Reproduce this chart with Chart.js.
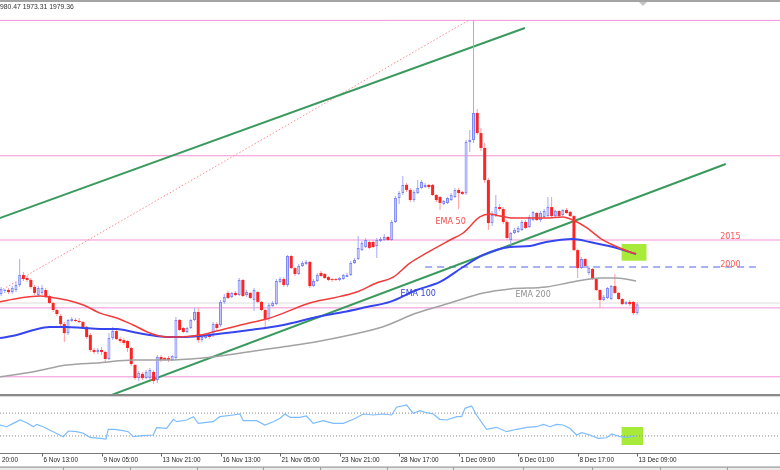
<!DOCTYPE html>
<html><head><meta charset="utf-8">
<script src="https://cdn.jsdelivr.net/npm/chart.js@4.4.1/dist/chart.umd.min.js"></script>
<style>html,body{margin:0;padding:0;background:#fff;}canvas{display:block;}</style>
</head><body>
<canvas id="c" width="780" height="470"></canvas>
<script>
// ---------- DATA (XAUUSD H4, bar index 5 .. 176) ----------
const firstBar = 5;
const opens = [
1985.0,1986.7,1987.2,1986.1,1987.2,1990.0,1995.6,1993.9,1992.8,1988.9,
1984.4,1985.6,1987.2,1983.9,1980.0,1976.1,1972.8,1968.3,1963.3,1970.0,
1970.6,1970.0,1969.4,1966.7,1962.2,1953.9,1952.8,1953.9,1952.8,1948.9,
1960.6,1964.4,1960.0,1959.4,1958.9,1955.0,1945.6,1938.3,1940.6,1938.3,
1938.3,1941.7,1937.2,1950.0,1949.4,1949.4,1948.3,1949.4,1970.6,1966.1,
1963.9,1966.1,1970.6,1975.0,1959.4,1960.6,1962.2,1962.2,1968.3,1967.8,
1980.6,1985.6,1983.3,1985.6,1984.4,1992.8,1984.4,1985.6,1981.7,1986.1,
1980.6,1976.1,1971.1,1978.3,1979.4,1991.7,1993.3,1990.0,2006.1,1999.4,
1996.1,2000.6,2001.7,2002.8,1989.4,1992.2,1996.7,1996.1,1994.4,1993.3,
1993.3,1992.8,1993.3,1994.4,1995.6,2002.2,2004.4,2009.4,2011.1,2013.9,
2013.9,2011.7,2014.4,2015.0,2016.7,2015.0,2025.0,2038.3,2041.1,2045.6,
2042.8,2037.2,2041.1,2043.9,2044.4,2045.6,2045.6,2040.0,2038.9,2035.0,
2035.6,2037.2,2038.9,2042.8,2041.7,2041.1,2069.4,2070.6,2085.6,2074.4,
2066.1,2048.3,2024.4,2028.9,2033.3,2032.2,2025.0,2015.0,2018.9,2019.4,
2020.6,2025.0,2022.2,2026.1,2030.0,2026.1,2027.8,2028.3,2033.3,2028.3,
2031.1,2028.9,2031.7,2030.6,2028.3,2009.4,1999.4,2004.4,1996.7,1998.9,
1993.3,1987.2,1981.7,1982.8,1982.2,1989.4,1985.6,1982.2,1979.4,1980.6,
1980.6,1974.4];
const highs = [
1988.9,1987.8,1988.3,1989.4,1991.7,2004.4,1997.2,1995.0,1993.9,1990.0,
1989.4,1990.0,1988.3,1984.4,1980.6,1976.7,1973.9,1969.4,1971.1,1972.2,
1971.7,1971.7,1970.0,1967.2,1963.3,1955.0,1955.0,1955.6,1953.3,1963.3,
1966.7,1965.0,1961.1,1960.6,1959.4,1955.6,1946.1,1942.2,1941.7,1942.8,
1943.9,1942.8,1951.1,1951.1,1950.0,1950.6,1951.1,1972.2,1971.1,1966.7,
1966.7,1971.1,1977.2,1977.2,1962.2,1963.3,1962.8,1969.4,1969.4,1981.7,
1985.0,1986.7,1986.1,1986.7,1993.9,1993.3,1987.2,1986.1,1988.3,1986.7,
1981.1,1976.7,1980.0,1981.1,1993.3,1994.4,1994.4,2006.7,2006.7,2000.0,
2001.7,2003.3,2003.9,2003.3,1993.3,1996.7,1997.8,1996.7,1995.0,1993.9,
1993.9,1994.4,1996.1,1996.7,2003.3,2005.0,2017.2,2014.4,2016.1,2015.0,
2015.0,2016.1,2016.7,2018.3,2017.2,2026.1,2039.4,2042.2,2050.6,2046.7,
2043.9,2042.8,2048.3,2048.3,2046.7,2046.1,2046.1,2040.6,2039.4,2037.2,
2038.9,2041.1,2043.9,2043.9,2042.2,2070.6,2076.1,2137.2,2087.8,2077.2,
2068.9,2049.4,2031.1,2040.0,2035.0,2033.3,2026.1,2019.4,2021.7,2022.8,
2026.1,2026.1,2028.9,2031.1,2030.6,2031.1,2032.2,2038.9,2038.9,2031.7,
2031.7,2032.2,2032.8,2031.1,2028.9,2010.0,2005.6,2005.0,2000.6,1999.4,
1993.9,1987.8,1984.4,1988.9,1990.0,1996.1,1986.1,1982.8,1981.1,1981.7,
1981.1,1980.47];
const lows = [
1983.9,1985.6,1985.0,1985.0,1986.1,1988.9,1992.2,1991.7,1987.8,1984.4,
1983.3,1984.4,1982.8,1979.4,1975.0,1972.8,1967.2,1958.3,1962.2,1969.4,
1969.4,1968.9,1965.6,1960.0,1952.8,1951.7,1951.7,1951.1,1947.2,1948.3,
1959.4,1959.4,1957.8,1956.7,1952.8,1945.0,1937.2,1936.7,1937.2,1937.8,
1937.2,1935.0,1935.6,1947.2,1947.8,1947.2,1947.8,1948.3,1964.4,1963.3,
1963.3,1965.6,1970.0,1957.8,1958.3,1960.0,1960.0,1961.1,1965.0,1966.7,
1979.4,1982.2,1982.8,1983.9,1983.9,1983.3,1983.3,1982.2,1975.6,1980.0,
1975.6,1966.1,1970.0,1977.8,1978.9,1991.1,1988.9,1988.9,1998.9,1995.0,
1995.6,2000.0,2001.1,1988.3,1988.9,1991.7,1994.4,1993.3,1992.2,1991.7,
1992.2,1992.2,1992.8,1994.4,1995.0,2001.7,2003.9,2008.9,2010.6,2010.0,
2010.6,2005.0,2013.9,2014.4,2014.4,2014.4,2024.4,2035.0,2040.0,2041.7,
2036.1,2036.1,2040.6,2043.3,2043.9,2043.3,2039.4,2036.1,2031.7,2034.4,
2035.0,2036.7,2038.3,2032.2,2040.0,2040.0,2063.9,2068.9,2073.3,2064.4,
2046.7,2020.6,2022.8,2027.8,2031.1,2023.9,2015.0,2012.2,2018.3,2018.9,
2020.0,2021.1,2021.7,2025.6,2025.6,2025.0,2027.2,2027.2,2027.2,2027.8,
2027.8,2028.3,2029.4,2027.8,2008.9,1993.9,1998.9,1999.4,1995.6,1992.8,
1986.7,1977.2,1981.1,1982.2,1981.7,1985.0,1981.7,1978.9,1978.9,1978.3,
1973.3,1973.31];
const closes = [
1987.8,1987.2,1986.1,1988.3,1990.0,1995.6,1993.3,1992.8,1988.9,1985.6,
1988.3,1988.3,1983.9,1980.0,1976.1,1973.9,1968.3,1963.3,1970.6,1971.1,
1970.0,1969.4,1966.7,1961.1,1953.9,1952.8,1953.9,1952.8,1948.9,1960.6,
1964.4,1960.0,1958.9,1957.8,1955.0,1946.1,1938.3,1941.1,1938.3,1941.7,
1942.8,1936.7,1950.0,1948.3,1948.3,1948.3,1950.6,1970.6,1965.0,1963.9,
1966.1,1970.6,1975.0,1959.4,1961.1,1962.2,1961.1,1968.3,1966.1,1980.6,
1983.3,1982.8,1985.6,1984.4,1992.8,1983.9,1986.1,1982.8,1987.2,1980.6,
1976.1,1971.1,1978.9,1980.0,1992.2,1993.3,1990.0,2006.1,1999.4,1996.1,
2000.6,2002.2,2002.8,1989.4,1992.2,1995.6,1995.0,1993.9,1992.8,1992.8,
1992.8,1993.9,1995.6,1995.6,2002.2,2003.9,2010.6,2013.3,2015.0,2010.6,
2011.1,2015.0,2015.6,2016.7,2015.0,2025.0,2038.3,2041.1,2045.6,2042.8,
2037.2,2041.7,2043.9,2047.2,2045.6,2044.4,2040.0,2037.2,2035.6,2036.7,
2038.3,2040.0,2042.8,2041.1,2040.6,2069.4,2070.6,2085.6,2074.4,2066.1,
2048.3,2024.4,2028.9,2033.3,2032.2,2025.0,2016.1,2018.9,2020.6,2021.7,
2025.0,2021.7,2027.8,2030.6,2026.1,2030.0,2031.1,2033.3,2028.3,2031.1,
2028.3,2031.7,2030.0,2028.3,2009.4,1999.4,2004.4,2000.6,1999.4,1993.3,
1987.2,1981.7,1983.3,1988.3,1989.4,1985.6,1982.2,1979.4,1980.6,1979.4,
1974.4,1979.36];

const ema50Idx = [4.7,10.1,15.5,18.1,22.6,27.1,31.6,36.1,40.5,45.0,49.5,52.2,58.5,62.9,71.9,76.4,80.9,88.0,94.3,100.6,105.9,110.4,114.9,119.4,125.7,129.2,133.7,136.4,139.1,142.6,147.2,151.5,156.0,158.7,162.5,166.0,169.5,173.3,175.7];
const ema50Val = [1980.7,1982.8,1983.9,1983.3,1981.7,1978.9,1974.4,1971.7,1967.8,1963.3,1961.1,1961.1,1962.2,1964.4,1969.0,1971.1,1974.4,1980.0,1982.8,1986.1,1991.1,1994.4,2002.2,2007.8,2015.0,2018.9,2027.8,2029.4,2028.3,2027.2,2027.2,2027.2,2027.8,2026.1,2021.7,2016.1,2012.2,2008.9,2007.2];
const ema100Idx = [4.7,9.2,13.7,18.1,22.6,27.1,31.6,36.1,40.5,45.0,49.5,54.0,58.5,71.9,80.9,89.8,97.0,103.3,109.5,116.7,123.0,129.2,134.6,141.8,147.2,151.5,158.7,163.3,169.5,175.7];
const ema100Val = [1960.5,1962.2,1965.0,1966.7,1966.7,1966.1,1965.6,1965.6,1963.9,1962.2,1961.1,1961.1,1961.7,1965.0,1967.8,1972.2,1975.0,1977.8,1980.6,1987.2,1991.7,2000.0,2006.7,2011.1,2011.7,2013.9,2015.6,2013.9,2011.1,2007.2];
const ema200Idx = [4.7,13.7,22.6,31.6,40.5,49.5,58.5,71.9,80.9,89.8,98.8,107.7,116.7,125.7,134.6,141.8,151.5,158.7,166.0,170.5,175.7];
const ema200Val = [1939.0,1941.8,1945.5,1946.8,1948.3,1948.3,1949.3,1952.9,1955.7,1958.5,1962.2,1966.8,1974.4,1980.0,1985.5,1987.8,1988.9,1991.7,1993.9,1993.9,1992.2];

const rsiIdx = [4.7,6.5,8.3,10.1,11.9,13.7,14.6,16.3,19.0,21.7,23.1,25.3,27.1,28.9,31.6,33.2,33.8,35.6,37.8,39.2,40.5,43.2,45.9,46.8,49.5,51.3,52.2,54.9,56.7,58.0,62.0,63.8,67.4,69.2,70.1,73.7,75.9,78.2,80.0,81.3,82.7,85.3,87.1,88.9,91.6,94.3,97.0,99.7,102.4,105.1,107.7,110.0,111.3,114.0,115.8,117.6,119.4,121.2,122.9,124.8,127.5,128.8,129.7,131.5,132.8,135.5,138.2,140.9,143.6,146.3,148.9,150.8,152.6,154.3,156.1,157.9,159.7,161.1,163.3,165.5,167.8,169.1,171.4,173.2,175.4];
const rsiVal = [49.1,46.1,52.0,57.9,53.2,46.1,50.3,46.1,37.4,28.6,38.6,37.4,34.6,27.5,25.8,24.6,41.6,41.6,39.1,37.4,28.6,30.4,31.6,44.4,43.3,59.1,54.9,57.9,63.7,52.0,54.9,63.7,66.7,68.4,56.7,56.7,49.1,54.9,60.9,68.4,62.6,62.6,64.9,52.0,56.7,52.0,52.0,59.1,68.4,66.7,68.4,66.7,80.2,84.2,69.6,74.2,70.7,68.4,59.1,57.9,63.7,63.7,78.4,82.5,66.7,41.6,45.1,37.4,41.6,45.1,46.1,50.3,46.1,50.3,49.1,43.3,31.6,35.6,31.6,25.8,26.8,33.3,28.6,27.5,29.8];
const rsiLevels = [70, 30];

const tickIdx = [0,16,32,48,64,80,96,112,128,144,160,176];
const tickLabels = ['1 Nov 20:00','6 Nov 13:00','9 Nov 05:00','13 Nov 21:00','16 Nov 13:00','21 Nov 05:00','23 Nov 21:00','28 Nov 17:00','1 Dec 09:00','6 Dec 01:00','8 Dec 17:00','13 Dec 09:00'];

const levels = [2137.0, 2061.8, 2015.0, 1977.3, 1939.0];
const bidLevel = 1980.0;
const dashedLevel = 2000;
const dashedSpan = [119.0, 207.9];
const upperTrendIdx = [4.0, 145.8],  upperTrendVal = [2026.7, 2132.8];
const lowerTrendIdx = [34.7, 199.8], lowerTrendVal = [1928.9, 2057.2];
const fanIdx = [4.7, 130.8],         fanVal = [1986.7, 2137.2];
const headerText = '980.47 1973.31 1979.36';

// ---------- BUILD ----------
const X_MIN = 4.71, X_MAX = 214.39;
const bullBody = [], bearBody = [], bullWick = [], bearWick = [];
opens.forEach((o, k) => {
  const i = firstBar + k, c = closes[k], up = c >= o;
  (up ? bullBody : bearBody).push({x: i, y: [o, c]});
  (up ? bullWick : bearWick).push({x: i, y: [lows[k], highs[k]]});
});
const pts = (xs, ys) => xs.map((x, k) => ({x, y: ys[k]}));
const mainClip = {left: 0, right: 0, top: -3, bottom: -59};
const hline = (v, color, order, extra) => Object.assign({
  type: 'line', data: [{x: X_MIN, y: v}, {x: X_MAX, y: v}], borderColor: color, borderWidth: 1,
  pointRadius: 0, order, clip: mainClip, yAxisID: 'y'}, extra || {});
const line = (data, color, width, order, extra) => Object.assign({
  type: 'line', data, borderColor: color, borderWidth: width, pointRadius: 0, order,
  clip: mainClip, yAxisID: 'y', fill: false}, extra || {});
const barDs = (data, fill, border, thick, order, bw) => ({
  type: 'bar', data, backgroundColor: fill, borderColor: border, borderWidth: bw,
  barThickness: thick, grouped: false, borderSkipped: false, order, clip: mainClip,
  yAxisID: 'y', inflateAmount: 0});

const datasets = [];
levels.forEach(v => datasets.push(hline(v, '#f393d7', 60)));
datasets.push(hline(bidLevel, '#dcdcdc', 61));
datasets.push(line([{x: dashedSpan[0], y: dashedLevel}, {x: dashedSpan[1], y: dashedLevel}], '#a9b0f3', 2, 59, {borderDash: [7, 5]}));
datasets.push(line(pts(fanIdx, fanVal), '#ff8c8c', 1, 58, {borderDash: [1.5, 2]}));
datasets.push(line(pts(upperTrendIdx, upperTrendVal), '#3a9a5e', 2, 57));
datasets.push(line(pts(lowerTrendIdx, lowerTrendVal), '#3a9a5e', 2, 57));
datasets.push(barDs(bullWick, '#a3aafb', '#a3aafb', 1, 50, 0));
datasets.push(barDs(bearWick, '#ff9c9c', '#ff9c9c', 1, 50, 0));
datasets.push(barDs(bullBody, '#c3c8fe', '#7c86f6', 3, 40, 1));
datasets.push(barDs(bearBody, '#ff2424', '#ff2424', 3, 40, 0));
const emaOpt = {cubicInterpolationMode: 'monotone'};
datasets.push(line(pts(ema200Idx, ema200Val), '#a2a2a2', 1.5, 22, emaOpt));
datasets.push(line(pts(ema100Idx, ema100Val), '#3646ee', 2, 21, emaOpt));
datasets.push(line(pts(ema50Idx, ema50Val), '#f23c3c', 1.5, 20, emaOpt));
rsiLevels.forEach(v => datasets.push({type: 'line', data: [{x: X_MIN, y: v}, {x: X_MAX, y: v}],
  borderColor: '#8a8a8a', borderWidth: 1, borderDash: [1, 2], pointRadius: 0, yAxisID: 'yr', order: 12}));
datasets.push({type: 'line', data: pts(rsiIdx, rsiVal), borderColor: '#7cbcff', borderWidth: 1.2,
  pointRadius: 0, yAxisID: 'yr', order: 10, tension: 0});

// ---------- ANNOTATIONS / CHROME ----------
const boxes = [
  {axis: 'y',  x0: 171.8, x1: 178.5, y0: 2003.5, y1: 2012.8},
  {axis: 'yr', x0: 171.8, x1: 177.6, y0: 14.0,   y1: 45.6}
];
const notes = [
  {text: 'EMA 50',  x: 121.8, y: 2025.3, color: '#f24a4a'},
  {text: 'EMA 100', x: 112.4, y: 1985.2, color: '#3646dc'},
  {text: 'EMA 200', x: 143.3, y: 1984.4, color: '#8e8e8e'},
  {text: '2015',    x: 198.3, y: 2016.8, color: '#ff5858'},
  {text: '2000',    x: 198.3, y: 2001.1, color: '#ff5858'}
];
const chrome = {
  id: 'chrome',
  beforeDraw(chart) {
    const ctx = chart.ctx; ctx.save(); ctx.fillStyle = '#fff';
    ctx.fillRect(0, 0, chart.width, chart.height); ctx.restore();
  },
  beforeDatasetsDraw(chart) {
    const ctx = chart.ctx, xs = chart.scales.x; ctx.save();
    ctx.fillStyle = '#a8ea3a';
    boxes.forEach(b => {
      const s = chart.scales[b.axis];
      const x0 = xs.getPixelForValue(b.x0), x1 = xs.getPixelForValue(b.x1);
      const y0 = s.getPixelForValue(b.y0), y1 = s.getPixelForValue(b.y1);
      ctx.fillRect(x0, Math.min(y0, y1), x1 - x0, Math.abs(y1 - y0));
    });
    ctx.restore();
  },
  afterDatasetsDraw(chart) {
    const ctx = chart.ctx, xs = chart.scales.x, ys = chart.scales.y, W = chart.width;
    const area = chart.chartArea;
    ctx.save();
    ctx.font = '8px "DejaVu Sans"'; ctx.textBaseline = 'middle'; ctx.textAlign = 'left';
    notes.forEach(n => { ctx.fillStyle = n.color; ctx.fillText(n.text, xs.getPixelForValue(n.x), ys.getPixelForValue(n.y)); });
    ctx.fillStyle = '#a4a4a4'; ctx.fillRect(0, 0, W, 2);
    ctx.fillStyle = '#c4c4c4';
    ctx.beginPath(); ctx.moveTo(639, 2); ctx.lineTo(647, 2); ctx.lineTo(643, 6); ctx.closePath(); ctx.fill();
    ctx.fillStyle = '#8a8a8a'; ctx.fillRect(0, 394, W, 2);
    ctx.fillStyle = '#d8d8d8'; ctx.fillRect(0, 396, W, 1);
    ctx.fillStyle = '#7a7a7a'; ctx.fillRect(0, area.bottom, W, 1);
    ctx.font = '6.4px "Liberation Sans"'; ctx.fillStyle = '#1e1e1e'; ctx.textBaseline = 'middle';
    tickIdx.forEach((t, k) => {
      const px = Math.round(xs.getPixelForValue(t)) + 0.5;
      ctx.strokeStyle = '#666'; ctx.lineWidth = 1;
      ctx.beginPath(); ctx.moveTo(px, area.bottom); ctx.lineTo(px, area.bottom + 3.5); ctx.stroke();
      ctx.fillText(tickLabels[k], px + 1, area.bottom + 7.5);
    });
    ctx.fillStyle = '#ececec'; ctx.fillRect(0, 467, W, 3);
    ctx.fillStyle = '#9a9a9a'; ctx.fillRect(0, 466.5, W, 1.2);
    [63,130,197,263,320,387,453,523,592,660,727].forEach(x => ctx.fillRect(x, 467, 1, 3));
    ctx.font = '6.8px "Liberation Sans"'; ctx.fillStyle = '#333'; ctx.textBaseline = 'middle';
    ctx.fillText(headerText, 0, 7.5);
    ctx.restore();
  }
};

Chart.defaults.font.family = '"Liberation Sans", sans-serif';
new Chart(document.getElementById('c'), {
  type: 'bar',
  data: {datasets},
  options: {
    responsive: false, animation: false, devicePixelRatio: 1,
    layout: {padding: {left: 0, right: 0, top: 0, bottom: 17}},
    plugins: {legend: {display: false}, tooltip: {enabled: false}},
    scales: {
      x: {type: 'linear', min: X_MIN, max: X_MAX, offset: false, display: false},
      y: {type: 'linear', min: 1896.667, max: 2148.333, display: false},
      yr: {type: 'linear', min: 0, max: 794.74, display: false}
    }
  },
  plugins: [chrome]
});
</script>
</body></html>
